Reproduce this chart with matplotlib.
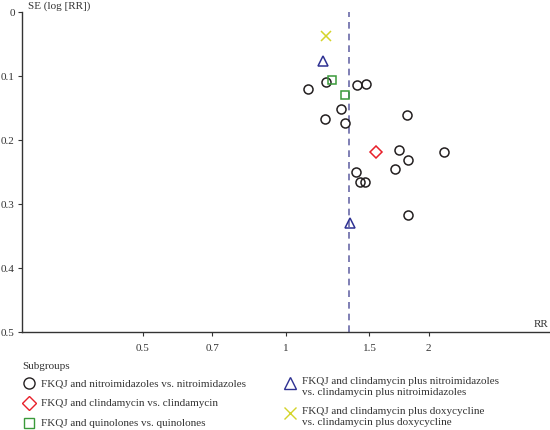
import matplotlib
matplotlib.use("Agg")
import matplotlib.pyplot as plt
from matplotlib.lines import Line2D

plt.rcParams['font.family'] = ['Liberation Serif', 'DejaVu Serif']

# Funnel plot data: (RR, SE of log RR) per subgroup
nitro_rr = [1.113, 1.216, 1.410, 1.477, 1.308, 1.210, 1.334, 1.797, 1.731,
            2.154, 1.806, 1.698, 1.405, 1.432, 1.466, 1.806]
nitro_se = [0.121, 0.110, 0.114, 0.112, 0.151, 0.167, 0.173, 0.161, 0.215,
            0.218, 0.232, 0.245, 0.250, 0.265, 0.266, 0.317]
clinda_rr = [1.548]
clinda_se = [0.218]
quino_rr = [1.252, 1.334]
quino_se = [0.106, 0.129]
clinda_nitro_rr = [1.20, 1.365]
clinda_nitro_se = [0.076, 0.330]
clinda_doxy_rr = [1.216]
clinda_doxy_se = [0.038]
pooled_rr = 1.356

x_ticks = [0.5, 0.7, 1, 1.5, 2]
x_tick_labels = ['0.5', '0.7', '1', '1.5', '2']
y_ticks = [0, 0.1, 0.2, 0.3, 0.4, 0.5]
y_tick_labels = ['0', '0.1', '0.2', '0.3', '0.4', '0.5']

groups = [
    ('FKQJ and nitroimidazoles vs. nitroimidazoles', nitro_rr, nitro_se, 'o', '#231f20'),
    ('FKQJ and clindamycin vs. clindamycin', clinda_rr, clinda_se, 'D', '#e8202a'),
    ('FKQJ and quinolones vs. quinolones', quino_rr, quino_se, 's', '#3a9a3a'),
    ('FKQJ and clindamycin plus nitroimidazoles\nvs. clindamycin plus nitroimidazoles',
     clinda_nitro_rr, clinda_nitro_se, '^', '#2e3192'),
    ('FKQJ and clindamycin plus doxycycline\nvs. clindamycin plus doxycycline',
     clinda_doxy_rr, clinda_doxy_se, 'x', '#d4d42a'),
]
sizes = {'o': 6.5, 'D': 6.0, 's': 5.5, '^': 7.0, 'x': 6.5}
FS = 8

W, H = 550, 431
fig = plt.figure(figsize=(W / 100, H / 100), dpi=100)
ax = fig.add_axes([21.7 / W, 98 / H, 1 - 21.7 / W, 320 / H])

ax.axvline(pooled_rr, color='#6a6aa8', linestyle=(0, (4, 3)), linewidth=1.2, zorder=1)

for label, rr, se, m, c in groups:
    ax.plot(rr, se, linestyle='none', marker=m, markersize=sizes[m],
            markerfacecolor='none', markeredgecolor=c, markeredgewidth=1.1, zorder=3)

ax.set_xscale('log')
ax.set_xlim(1 / 3.6, 3.6)
ax.set_ylim(0.5, 0)
ax.set_xticks(x_ticks)
ax.set_xticklabels(x_tick_labels)
ax.minorticks_off()
ax.set_yticks(y_ticks)
ax.set_yticklabels(y_tick_labels)
for s in ['top', 'right']:
    ax.spines[s].set_visible(False)
for s in ['left', 'bottom']:
    ax.spines[s].set_color('#333333')
    ax.spines[s].set_linewidth(1.0)
ax.tick_params(axis='both', labelsize=FS, colors='#333333', length=3, width=0.8)
ax.tick_params(axis='x', pad=5)
ax.tick_params(axis='y', pad=2)

fig.text(28 / W, 1 - 6 / H, 'SE (log [RR])', fontsize=FS, color='#333333',
         ha='left', va='center')
fig.text(1 - 2 / W, 1 - 325 / H, 'RR', fontsize=FS, color='#333333',
         ha='right', va='center')

# legend block below the plot
fig.text(22 / W, 1 - 367 / H, 'Subgroups', fontsize=FS, color='#333333',
         ha='left', va='center')
key_pos = [(29, 384), (29, 404), (29, 424), (290, 384), (290, 414)]
for (label, rr, se, m, c), (kx, ky) in zip(groups, key_pos):
    fig.add_artist(Line2D([kx / W], [1 - ky / H], transform=fig.transFigure,
                          linestyle='none', marker=m, markersize=sizes[m] + 1.5,
                          markerfacecolor='none', markeredgecolor=c,
                          markeredgewidth=1.0))
    if '\n' in label:
        fig.text((kx + 12) / W, 1 - (ky - 6.5) / H, label, fontsize=FS,
                 color='#333333', ha='left', va='top', linespacing=1.2)
    else:
        fig.text((kx + 12) / W, 1 - ky / H, label, fontsize=FS,
                 color='#333333', ha='left', va='center')

fig.savefig('out.png', dpi=100)
